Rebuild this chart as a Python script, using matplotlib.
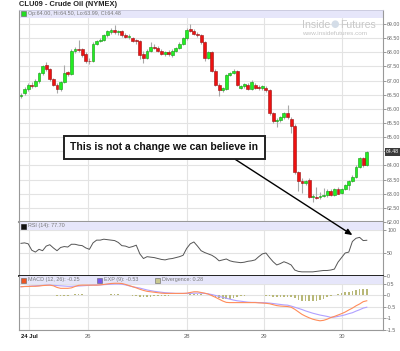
import numpy as np
import matplotlib
matplotlib.use('Agg')
import matplotlib.pyplot as plt
from matplotlib.patches import Rectangle

# hourly bars, CLU09
opens = [66.45, 66.55, 66.70, 66.85, 66.80, 66.98, 67.25, 67.55, 67.40, 67.05,
         66.85, 66.70, 66.95, 67.30, 67.22, 68.05, 68.12, 68.10, 67.95, 67.70,
         67.68, 68.30, 68.40, 68.45, 68.60, 68.72, 68.80, 68.70, 68.75, 68.60,
         68.55, 68.50, 68.42, 68.40, 67.95, 67.80, 68.05, 68.20, 68.15, 68.05,
         67.95, 68.00, 67.90, 68.05, 68.15, 68.30, 68.50, 68.82, 68.75, 68.65,
         68.60, 68.35, 67.80, 68.00, 67.35, 66.85, 66.68, 66.70, 67.20, 67.28,
         67.35, 66.75, 66.80, 66.85, 66.70, 66.85, 66.78, 66.72, 66.75, 66.65,
         65.85, 65.58, 65.62, 65.70, 65.85, 65.65, 65.40, 63.75, 63.45, 63.38,
         63.50, 62.90, 62.90, 62.88, 62.93, 62.95, 63.10, 62.95, 63.18, 63.02,
         63.15, 63.30, 63.45, 63.60, 63.95, 64.25, 64.00]
highs = [66.55, 66.78, 66.90, 66.95, 67.05, 67.30, 67.55, 67.65, 67.45, 67.10,
         66.92, 67.00, 67.55, 67.35, 68.10, 68.20, 68.45, 68.15, 68.00, 67.78,
         68.35, 68.45, 68.50, 68.65, 68.80, 68.85, 68.95, 68.80, 68.78, 68.68,
         68.65, 68.55, 68.48, 68.42, 68.05, 68.10, 68.35, 68.30, 68.22, 68.12,
         68.05, 68.08, 68.10, 68.20, 68.35, 68.55, 68.85, 69.00, 68.82, 68.72,
         68.65, 68.40, 68.05, 68.05, 67.40, 66.90, 66.78, 67.22, 67.32, 67.40,
         67.38, 66.85, 66.92, 66.90, 67.02, 66.92, 66.85, 66.85, 66.80, 66.70,
         65.90, 65.68, 65.75, 65.90, 66.14, 65.70, 65.45, 63.80, 63.55, 63.50,
         63.55, 62.98, 63.25, 63.05, 63.20, 63.15, 63.15, 63.20, 63.25, 63.20,
         63.35, 63.48, 63.65, 64.00, 64.30, 64.30, 64.50]
lows = [66.38, 66.50, 66.62, 66.75, 66.78, 66.92, 67.20, 67.35, 67.00, 66.80,
        66.55, 66.62, 66.90, 67.15, 67.18, 67.98, 68.02, 67.85, 67.62, 67.58,
        67.65, 68.25, 68.35, 68.40, 68.55, 68.65, 68.65, 68.62, 68.55, 68.50,
        68.48, 68.35, 68.30, 67.75, 67.62, 67.75, 68.00, 68.10, 68.00, 67.90,
        67.88, 67.88, 67.85, 68.00, 68.10, 68.25, 68.45, 68.70, 68.60, 68.55,
        68.30, 67.70, 67.75, 67.30, 66.80, 66.45, 66.60, 66.65, 67.15, 67.22,
        66.80, 66.70, 66.75, 66.65, 66.65, 66.70, 66.68, 66.68, 66.58, 65.80,
        65.50, 65.36, 65.55, 65.65, 65.65, 65.15, 63.70, 63.10, 63.03, 63.30,
        62.85, 62.70, 62.80, 62.82, 62.88, 62.90, 62.92, 62.92, 62.98, 62.98,
        63.12, 63.14, 63.40, 63.55, 63.90, 63.95, 63.99]
closes = [66.50, 66.70, 66.85, 66.80, 66.98, 67.25, 67.50, 67.40, 67.05, 66.85,
          66.70, 66.95, 67.25, 67.22, 68.05, 68.12, 68.08, 67.90, 67.70, 67.68,
          68.30, 68.40, 68.45, 68.60, 68.75, 68.78, 68.70, 68.75, 68.60, 68.55,
          68.58, 68.40, 68.40, 67.90, 67.80, 68.05, 68.20, 68.15, 68.05, 67.95,
          68.00, 67.95, 68.05, 68.15, 68.30, 68.50, 68.80, 68.75, 68.65, 68.60,
          68.35, 67.80, 68.00, 67.35, 66.85, 66.68, 66.72, 67.20, 67.28, 67.35,
          66.85, 66.80, 66.88, 66.70, 66.95, 66.75, 66.72, 66.80, 66.65, 65.85,
          65.58, 65.62, 65.70, 65.85, 65.70, 65.40, 63.75, 63.45, 63.38, 63.45,
          62.90, 62.91, 62.86, 62.93, 62.95, 63.10, 62.95, 63.15, 63.00, 63.15,
          63.30, 63.45, 63.60, 63.95, 64.25, 64.00, 64.48]

rsi = [71, 72, 70, 56, 52, 58, 55, 65, 68, 61,
       55, 62, 64, 63, 69, 69, 67, 66, 61, 58,
       72, 78, 78, 80, 79, 78, 77, 73, 66, 65,
       62, 64, 67, 48, 38, 42, 41, 40, 38, 36,
       35, 37, 38, 40, 42, 45, 60, 70, 74, 65,
       55, 51, 48, 45, 40, 33, 35, 37, 33, 31,
       30, 29, 30, 32, 33, 35, 42, 48, 50, 40,
       31, 24, 27, 31, 28, 24, 13, 10, 9, 9,
       9, 9, 10, 11, 12, 12, 13, 15, 30, 40,
       50, 52, 75, 82, 84, 77, 77.7]

macd = [0.36, 0.37, 0.37, 0.38, 0.38, 0.39, 0.41, 0.42, 0.43, 0.40,
        0.33, 0.29, 0.29, 0.29, 0.31, 0.37, 0.42, 0.43, 0.43, 0.43,
        0.43, 0.43, 0.44, 0.46, 0.48, 0.50, 0.51, 0.51, 0.50, 0.46,
        0.41, 0.36, 0.31, 0.25, 0.20, 0.16, 0.14, 0.12, 0.10, 0.08,
        0.07, 0.07, 0.07, 0.07, 0.07, 0.07, 0.08, 0.11, 0.14, 0.14,
        0.11, 0.08, 0.04, -0.03, -0.10, -0.18, -0.26, -0.32, -0.33, -0.33,
        -0.33, -0.33, -0.33, -0.33, -0.33, -0.33, -0.34, -0.35, -0.36, -0.38,
        -0.42, -0.46, -0.48, -0.49, -0.50, -0.53, -0.62, -0.73, -0.84, -0.92,
        -0.99, -1.05, -1.09, -1.12, -1.10, -1.05, -0.98, -0.93, -0.87, -0.81,
        -0.74, -0.65, -0.57, -0.47, -0.39, -0.29, -0.25]
exp9 = [0.36, 0.37, 0.38, 0.39, 0.40, 0.41, 0.42, 0.43, 0.43, 0.42,
        0.41, 0.40, 0.39, 0.38, 0.38, 0.39, 0.39, 0.40, 0.41, 0.42,
        0.43, 0.43, 0.44, 0.45, 0.46, 0.47, 0.48, 0.48, 0.47, 0.44,
        0.40, 0.36, 0.33, 0.30, 0.26, 0.22, 0.19, 0.16, 0.14, 0.12,
        0.10, 0.09, 0.08, 0.07, 0.07, 0.07, 0.07, 0.07, 0.08, 0.08,
        0.08, 0.07, 0.05, 0.02, -0.02, -0.06, -0.10, -0.14, -0.18, -0.22,
        -0.25, -0.27, -0.29, -0.31, -0.32, -0.32, -0.33, -0.33, -0.34, -0.35,
        -0.37, -0.39, -0.41, -0.43, -0.44, -0.48, -0.53, -0.58, -0.63, -0.69,
        -0.74, -0.79, -0.83, -0.87, -0.90, -0.93, -0.97, -0.96, -0.93, -0.90,
        -0.86, -0.81, -0.77, -0.70, -0.64, -0.57, -0.53]
divergence = [0.00, 0.00, 0.01, 0.01, 0.00, -0.01, -0.01, 0.00, 0.00, -0.02,
              -0.05, -0.06, -0.05, -0.04, 0.02, 0.04, 0.04, 0.03, 0.02, 0.01,
              0.00, 0.00, 0.01, 0.02, 0.02, 0.03, 0.03, 0.03, 0.02, 0.00,
              -0.02, -0.04, -0.06, -0.08, -0.08, -0.08, -0.07, -0.06, -0.05, -0.05,
              -0.04, -0.03, -0.02, -0.01, 0.00, 0.01, 0.02, 0.04, 0.06, 0.06,
              0.04, 0.02, -0.02, -0.05, -0.09, -0.13, -0.16, -0.18, -0.16, -0.12,
              -0.08, -0.06, -0.04, -0.02, -0.01, -0.01, -0.01, -0.02, -0.03, -0.05,
              -0.07, -0.09, -0.10, -0.08, -0.08, -0.10, -0.15, -0.20, -0.24, -0.25,
              -0.25, -0.25, -0.24, -0.22, -0.16, -0.10, -0.04, 0.02, 0.06, 0.09,
              0.12, 0.15, 0.18, 0.21, 0.24, 0.26, 0.28]

price_ticks = [62.0, 62.5, 63.0, 63.5, 64.0, 64.5, 65.0, 65.5,
               66.0, 66.5, 67.0, 67.5, 68.0, 68.5, 69.0]
rsi_ticks = [0, 50, 100]
macd_ticks = [-1.5, -1.0, -0.5, 0.0, 0.5]
macd_tick_labels = ['-1.5', '-1', '-0.5', '0', '0.5']
date_pos = [2.2, 18.5, 46, 67.5, 89]
date_labels = ['24 Jul', '26', '28', '29', '30']

plt.rcParams['font.family'] = ['Liberation Sans', 'DejaVu Sans']

W, H = 400, 351
fig = plt.figure(figsize=(W / 100, H / 100), dpi=100)


def box(x0, y0, x1, y1):
    return [x0 / W, 1 - y1 / H, (x1 - x0) / W, (y1 - y0) / H]


def ftext(x, y, s, **kw):
    fig.text(x / W, 1 - y / H, s, va='center', **kw)


def square(x, y, color, ec='#666666'):
    fig.add_artist(Rectangle((x / W, 1 - (y + 2.5) / H), 5 / W, 5 / H,
                             transform=fig.transFigure, fc=color, ec=ec, lw=0.4))


ax = fig.add_axes(box(19, 10, 383, 222))
ax_rsi = fig.add_axes(box(19, 222, 383, 276))
ax_macd = fig.add_axes(box(19, 276, 383, 330))

idx = np.arange(len(closes))
o = np.array(opens)
c = np.array(closes)
up = c >= o

for a, band in [(ax, 8 / 212), (ax_rsi, 8 / 54), (ax_macd, 8 / 54)]:
    a.set_xlim(-0.55, 100.5)
    a.set_xticks(date_pos)
    a.grid(True, color='#e3e3e3', lw=0.8, zorder=0)
    a.set_axisbelow(True)
    a.add_patch(Rectangle((0, 1 - band), 1, band, transform=a.transAxes,
                          fc='#e6e6fa', ec='none', zorder=1.5))
    a.yaxis.tick_right()
    a.tick_params(axis='y', length=2.2, width=0.6, color='#888888',
                  labelsize=3.75, labelcolor='#666666', pad=0.8)
    a.tick_params(axis='x', length=0)
    for s in ['left', 'right']:
        a.spines[s].set_color('#999999')
        a.spines[s].set_linewidth(0.8)
    a.spines['top'].set_visible(False)

# price candles
ax.vlines(idx, lows, highs, color='#a8a8a8', lw=0.8, zorder=2)
ax.bar(idx[up], (c - o)[up], bottom=o[up], width=0.8, color='#22ee22',
       edgecolor='#119911', lw=0.4, zorder=3)
ax.bar(idx[~up], (o - c)[~up], bottom=c[~up], width=0.8, color='#ee1111',
       edgecolor='#991111', lw=0.4, zorder=3)
ax.set_ylim(62.011, 69.494)
ax.set_yticks(price_ticks)
# the last-price tag sits where the 64.50 label would be
ax.set_yticklabels(['' if p == 64.5 else f'{p:.2f}' for p in price_ticks])
ax.tick_params(axis='x', labelbottom=False)
ax.spines['top'].set_visible(True)
ax.spines['top'].set_color('#c8c8dc')
ax.spines['top'].set_linewidth(0.6)
ax.spines['bottom'].set_color('#999999')
ax.spines['bottom'].set_linewidth(1.5)
ax.annotate(f'{closes[-1]:.2f}', xy=(1, closes[-1]),
            xycoords=('axes fraction', 'data'), xytext=(2.2, 0),
            textcoords='offset points', ha='left', va='center',
            fontsize=3.75, color='white', annotation_clip=False,
            bbox=dict(boxstyle='square,pad=0.25', fc='#3a3a3a', ec='none'))

# RSI
ax_rsi.plot(idx, rsi, color='#555555', lw=0.7, zorder=3)
ax_rsi.set_ylim(0, 117.4)
ax_rsi.set_yticks(rsi_ticks)
ax_rsi.tick_params(axis='x', labelbottom=False)
ax_rsi.spines['bottom'].set_color('#111111')
ax_rsi.spines['bottom'].set_linewidth(1.3)

# MACD
ax_macd.bar(idx, divergence, width=0.45, color='#b8b878', lw=0, zorder=2)
ax_macd.plot(idx, exp9, color='#b0a0ff', lw=0.8, zorder=3)
ax_macd.plot(idx, macd, color='#ff8c5a', lw=0.8, zorder=4)
ax_macd.set_ylim(-1.52, 0.826)
ax_macd.set_yticks(macd_ticks)
ax_macd.set_yticklabels(macd_tick_labels)
ax_macd.set_xticklabels(date_labels)
ax_macd.tick_params(axis='x', labelsize=4.2, labelcolor='#666666', pad=3)
first = ax_macd.get_xticklabels()[0]
first.set_fontweight('bold')
first.set_color('#111111')
ax_macd.spines['bottom'].set_color('#999999')
ax_macd.spines['bottom'].set_linewidth(0.8)

# titles and panel headers
ftext(19, 4.5, 'CLU09 - Crude Oil (NYMEX)', fontsize=5.4, color='#222222',
      fontweight='bold')
square(21, 13.5, '#22dd22')
ftext(28, 13.5, 'Op:64.00, Hi:64.50, Lo:63.99, Cl:64.48', fontsize=3.9, color='#777777')
square(21, 226, '#111111', ec='#111111')
ftext(28, 226, 'RSI (14): 77.70', fontsize=3.9, color='#777777')
square(21, 280, '#ee5522')
ftext(28, 280, 'MACD (12, 26): -0.25', fontsize=3.9, color='#777777')
square(97, 280, '#7755ee')
ftext(104, 280, 'EXP (9): -0.53', fontsize=3.9, color='#777777')
square(155, 280, '#c8c890')
ftext(162, 280, 'Divergence: 0.28', fontsize=3.9, color='#777777')

# watermark
ftext(302, 24.5, 'Inside', fontsize=7.6, color='#c8c8c8')
ftext(330, 24.5, '\u25cf', fontsize=7, color='#d4dde8', family=['DejaVu Sans'])
ftext(340, 24.5, 'Futures', fontsize=7.6, color='#c8c8c8')
ftext(302, 33.5, 'www.insidefutures.com', fontsize=4.6, color='#c4c4c4')

# callout
ann = ax_rsi.annotate('This is not a change we can believe in', xy=(92, 89),
                      xycoords='data', xytext=(164.5, H - 147.5),
                      textcoords='figure pixels', ha='center', va='center',
                      fontsize=7.5, fontweight='bold', color='#111111',
                      annotation_clip=False, zorder=10,
                      bbox=dict(boxstyle='square,pad=0.6', fc='white',
                                ec='#222222', lw=1.4),
                      arrowprops=dict(arrowstyle='-|>,head_length=0.5,head_width=0.22',
                                      color='black', lw=1.0, relpos=(0.82, 0),
                                      shrinkA=0, shrinkB=0))
ann.arrow_patch.set_clip_on(False)

fig.savefig('out.png', dpi=100)
